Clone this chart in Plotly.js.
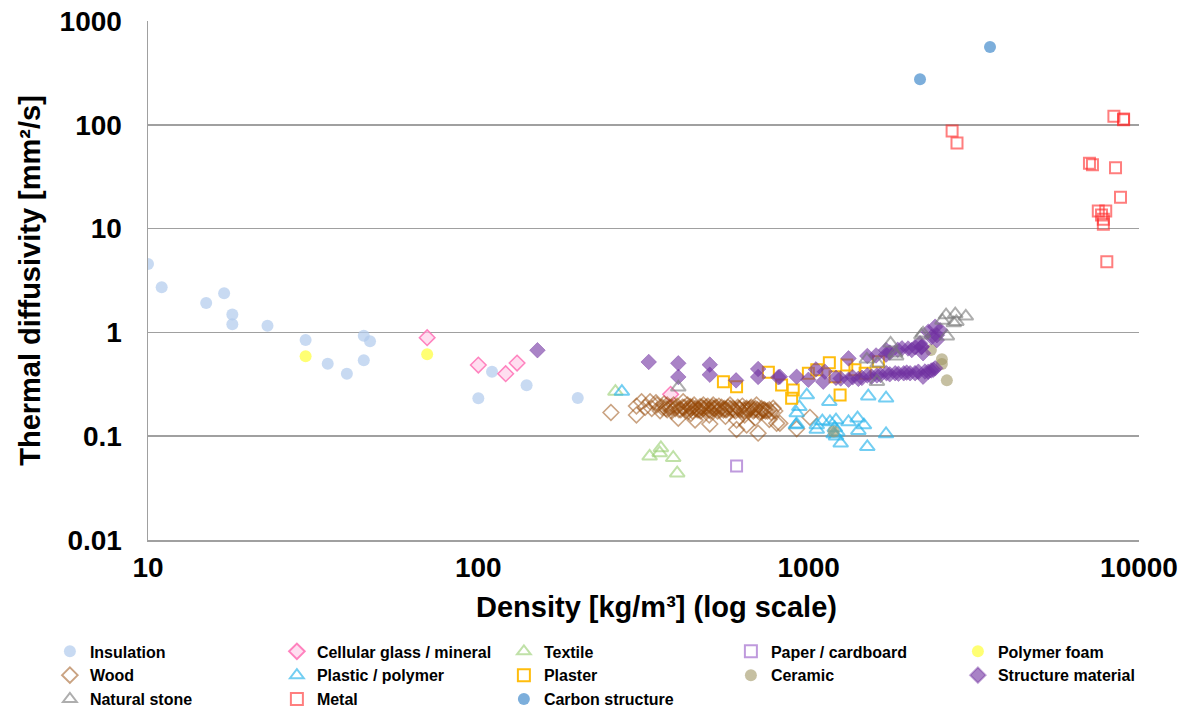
<!DOCTYPE html>
<html>
<head>
<meta charset="utf-8">
<script src="https://cdn.plot.ly/plotly-3.0.1.min.js"></script>
<style>html,body{margin:0;padding:0;background:#fff;}#chart{width:1192px;height:713px;}</style>
</head>
<body>
<div id="chart"></div>
<script>
// ---- data (density kg/m3, thermal diffusivity mm2/s) ----
const insulationD = [10, 11, 15, 17, 18, 18, 23, 30, 35, 40, 45, 47, 45, 100, 110, 140, 200];
const insulationV = [4.56, 2.72, 1.92, 2.38, 1.49, 1.2, 1.16, 0.845, 0.50, 0.40, 0.93, 0.82, 0.54, 0.232, 0.418, 0.309, 0.233];

const cellularD = [70, 100, 121, 131, 382];
const cellularV = [0.89, 0.485, 0.40, 0.507, 0.253];

const textileD = [260, 357, 354, 330, 389, 400];
const textileV = [0.269, 0.077, 0.069, 0.064, 0.062, 0.044];

const paperD = [605];
const paperV = [0.0516];

const foamD = [30, 70];
const foamV = [0.589, 0.615];

const woodD = [252, 301, 301, 312, 331, 347, 355, 373, 373, 403, 417, 438, 453, 469, 502, 514, 552, 578, 605, 605, 649, 649, 695, 703, 728, 781, 800, 790, 1009, 818, 920,
  320, 335, 345, 360, 365, 380, 385, 390, 395, 400, 410, 420, 425, 430, 440, 445, 450, 460, 470, 475, 480, 490, 495, 505, 510, 520, 530, 535, 545, 560, 570, 590, 600, 610, 620, 630, 640, 660, 670, 680, 690, 710, 720, 740, 760, 770,
  440, 500, 560, 640, 690, 760,
  370, 385, 405, 415, 430, 445, 455, 465, 480, 490, 500, 515, 525, 540, 555, 565, 580, 595, 615, 635, 650, 665, 685, 700, 715, 735, 750];
const woodV = [0.169, 0.160, 0.195, 0.215, 0.215, 0.20, 0.176, 0.20, 0.18, 0.149, 0.215, 0.192, 0.143, 0.192, 0.131, 0.20, 0.179, 0.20, 0.143, 0.116, 0.128, 0.186, 0.20, 0.107, 0.179, 0.186, 0.133, 0.175, 0.152, 0.133, 0.118,
  0.19, 0.185, 0.21, 0.19, 0.205, 0.19, 0.175, 0.2, 0.185, 0.195, 0.18, 0.19, 0.175, 0.2, 0.185, 0.175, 0.2, 0.18, 0.175, 0.19, 0.2, 0.18, 0.195, 0.175, 0.19, 0.185, 0.175, 0.195, 0.19, 0.18, 0.19, 0.185, 0.175, 0.19, 0.18, 0.195, 0.175, 0.18, 0.19, 0.175, 0.185, 0.17, 0.185, 0.175, 0.18, 0.17,
  0.165, 0.16, 0.155, 0.16, 0.15, 0.145,
  0.185, 0.19, 0.18, 0.19, 0.185, 0.19, 0.185, 0.18, 0.185, 0.19, 0.18, 0.185, 0.19, 0.18, 0.185, 0.18, 0.185, 0.18, 0.185, 0.18, 0.18, 0.185, 0.18, 0.18, 0.175, 0.18, 0.175];

const plasticD = [272, 987, 937, 920, 915, 920, 1058, 1058, 1155, 1160, 1210, 1210, 1220, 1250, 1320, 1406, 1414, 1470, 1505, 1515, 1715, 1715, 1200, 1190, 1100];
const plasticV = [0.269, 0.249, 0.192, 0.167, 0.128, 0.13, 0.128, 0.116, 0.215, 0.137, 0.143, 0.10, 0.11, 0.0853, 0.137, 0.149, 0.113, 0.128, 0.079, 0.243, 0.232, 0.105, 0.12, 0.105, 0.14];

const plasterD = [552, 605, 755, 828, 898, 888, 998, 1058, 1155, 1202, 1245, 1304, 1381, 1482, 1626];
const plasterV = [0.335, 0.30, 0.413, 0.311, 0.279, 0.232, 0.404, 0.436, 0.511, 0.374, 0.249, 0.485, 0.436, 0.404, 0.522];

const ceramicD = [1190, 2344, 2531, 2531, 2620];
const ceramicV = [0.111, 0.676, 0.55, 0.497, 0.345];

const structureD = [151, 328, 403, 403, 502, 502, 603, 703, 703, 809,
  818, 920, 998, 1052, 1107, 1120, 1210, 1320, 1320, 1414, 1505, 1505, 1609, 1715, 1715, 1720, 1828, 1916, 1940, 2028, 2052, 2148, 2194, 2220, 2220, 2302, 2384, 2415,
  2173, 2200, 2302, 2356, 2415, 2444, 2444, 2500,
  1250, 1360, 1450, 1550, 1650, 1760, 1870, 1980, 2100, 2250, 2350,
  1760, 1860, 2000, 2100, 1600];
const structureV = [0.673, 0.519, 0.504, 0.372, 0.489, 0.391, 0.345, 0.444, 0.372, 0.37,
  0.374, 0.374, 0.35, 0.44, 0.335, 0.418, 0.365, 0.562, 0.35, 0.357, 0.593, 0.385, 0.385, 0.676, 0.61, 0.404, 0.404, 0.703, 0.404, 0.404, 0.676, 0.418, 0.72, 0.63, 0.374, 0.418, 0.436, 0.451,
  0.785, 0.73, 1.016, 0.90, 1.135, 0.94, 0.843, 1.05,
  0.36, 0.37, 0.365, 0.375, 0.39, 0.395, 0.40, 0.41, 0.405, 0.42, 0.43,
  0.64, 0.68, 0.70, 0.72, 0.60];

const stoneD = [403, 1500, 1617, 1609, 1770, 1840, 1828, 2194, 2220, 2540, 2606, 2620, 2750, 2778, 2800, 2990];
const stoneV = [0.296, 0.55, 0.504, 0.335, 0.785, 0.59, 0.63, 0.94, 0.98, 1.3, 1.47, 0.92, 1.23, 1.5, 1.27, 1.43];

const metalD = [2718, 2812, 8395, 8980, 8980, 7080, 7230, 8490, 8790, 7530, 7930, 7700, 7800, 7800, 7990];
const metalV = [87, 66.8, 121, 113.7, 112, 42.6, 41.3, 38.6, 20, 14.8, 14.8, 13.5, 12.3, 11.0, 4.8];

const carbonD = [2173, 3540];
const carbonV = [274, 562];

const seriesNames = ['Insulation', 'Cellular glass / mineral', 'Textile', 'Paper / cardboard', 'Polymer foam',
  'Wood', 'Plastic / polymer', 'Plaster', 'Ceramic', 'Structure material',
  'Natural stone', 'Metal', 'Carbon structure'];

const yTickVals = [0.01, 0.1, 1, 10, 100, 1000];
const yTickText = ['0.01', '0.1', '1', '10', '100', '1000'];
const xTickVals = [10, 100, 1000, 10000];
const xTickText = ['10', '100', '1000', '10000'];
const xTitle = 'Density [kg/m³] (log scale)';
const yTitle = 'Thermal diffusivity [mm²/s]';

// ---- traces ----
function tr(name, x, y, marker) {
  return {type: 'scatter', mode: 'markers', name: name, x: x, y: y, marker: marker, hoverinfo: 'x+y+name'};
}
const traces = [
  tr(seriesNames[0], insulationD, insulationV, {symbol: 'circle', size: 12, color: 'rgba(176,203,236,0.7)'}),
  tr(seriesNames[1], cellularD, cellularV, {symbol: 'diamond', size: 12, color: 'rgba(255,200,230,0.6)', line: {color: 'rgba(255,110,180,0.85)', width: 1.5}}),
  tr(seriesNames[2], textileD, textileV, {symbol: 'triangle-up-open', size: 13, color: 'rgba(150,205,110,0.6)', line: {width: 2}}),
  tr(seriesNames[3], paperD, paperV, {symbol: 'square-open', size: 11, color: 'rgba(170,120,210,0.75)', line: {width: 2}}),
  tr(seriesNames[4], foamD, foamV, {symbol: 'circle', size: 12, color: 'rgba(255,255,90,0.85)'}),
  tr(seriesNames[5], woodD, woodV, {symbol: 'diamond-open', size: 12, color: 'rgba(150,72,5,0.5)', line: {width: 1.6}}),
  tr(seriesNames[6], plasticD, plasticV, {symbol: 'triangle-up-open', size: 13, color: 'rgba(40,180,235,0.65)', line: {width: 2}}),
  tr(seriesNames[7], plasterD, plasterV, {symbol: 'square-open', size: 11, color: 'rgba(255,185,0,0.95)', line: {width: 2}}),
  tr(seriesNames[8], ceramicD, ceramicV, {symbol: 'circle', size: 12, color: 'rgba(160,150,100,0.6)'}),
  tr(seriesNames[9], structureD, structureV, {symbol: 'diamond', size: 12, color: 'rgba(112,48,160,0.6)', line: {color: 'rgba(112,48,160,0.4)', width: 1}}),
  tr(seriesNames[10], stoneD, stoneV, {symbol: 'triangle-up-open', size: 13, color: 'rgba(120,120,120,0.6)', line: {width: 2}}),
  tr(seriesNames[11], metalD, metalV, {symbol: 'square-open', size: 11, color: 'rgba(255,40,40,0.6)', line: {width: 2}}),
  tr(seriesNames[12], carbonD, carbonV, {symbol: 'circle', size: 12, color: 'rgba(110,165,215,0.9)'})
];

const fontFam = 'Liberation Sans, Arial, sans-serif';
const layout = {
  width: 1192, height: 713,
  margin: {l: 148, r: 53, t: 21, b: 173, autoexpand: false},
  paper_bgcolor: '#fff', plot_bgcolor: '#fff',
  font: {family: fontFam, color: '#000'},
  showlegend: true,
  xaxis: {
    type: 'log', range: [1, 4],
    tickvals: xTickVals, ticktext: xTickText,
    tickfont: {family: fontFam, size: 28, weight: 'bold', color: '#000'},
    showgrid: false, zeroline: false,
    showline: true, linecolor: '#a0a0a0', linewidth: 1.5,
    ticks: '', ticklabelstandoff: 2
  },
  yaxis: {
    type: 'log', range: [-2, 3],
    tickvals: yTickVals, ticktext: yTickText,
    tickfont: {family: fontFam, size: 28, weight: 'bold', color: '#000'},
    showgrid: true, gridcolor: '#a0a0a0', gridwidth: 1.5,
    zeroline: false,
    showline: true, linecolor: '#a0a0a0', linewidth: 1.5,
    ticks: '', ticklabelstandoff: 19,
    title: {text: yTitle, font: {family: fontFam, size: 29, weight: 'bold', color: '#000'}, standoff: 10}
  },
  annotations: [{
    text: xTitle, showarrow: false,
    xref: 'paper', yref: 'paper', x: 0.5136, y: -0.129, xanchor: 'center', yanchor: 'middle',
    font: {family: fontFam, size: 29, weight: 'bold', color: '#000'}
  }],
  legend: {
    orientation: 'h',
    x: -0.099, xanchor: 'left',
    y: -0.182, yanchor: 'top',
    entrywidth: 182, entrywidthmode: 'pixels',
    font: {family: fontFam, size: 16, weight: 'bold', color: '#000'},
    itemsizing: 'constant',
    bgcolor: 'rgba(0,0,0,0)',
    traceorder: 'normal'
  }
};

Plotly.newPlot('chart', traces, layout, {displayModeBar: false, staticPlot: true});
</script>
</body>
</html>
